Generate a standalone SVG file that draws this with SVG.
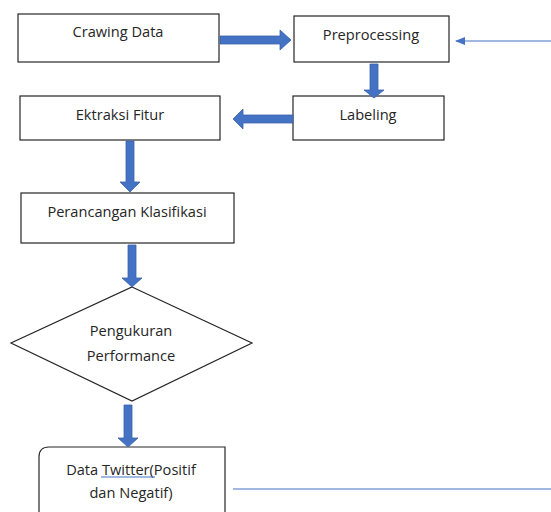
<svg xmlns="http://www.w3.org/2000/svg" width="551" height="512" viewBox="0 0 551 512">
<style>
.box{fill:#fff;stroke:#262626;stroke-width:1.2}
.t{font-family:"Open Sans","Liberation Sans",sans-serif;font-size:14.6px;fill:#262626;text-anchor:middle}
.ba{fill:#4472C4;stroke:#3A62AB;stroke-width:0.8}
.thin{stroke:#4472C4;stroke-width:1.2;fill:none}
</style>
<defs>
<marker id="ah" markerWidth="10" markerHeight="8" refX="9" refY="4" orient="auto" markerUnits="userSpaceOnUse">
<path d="M0,0 L10,4 L0,8 Z" fill="#4472C4"/>
</marker>
</defs>
<rect width="551" height="512" fill="#fff"/>
<g id="crawing"><rect class="box" x="18" y="14" width="201" height="48"/><text class="t" x="118" y="37">Crawing Data</text></g>
<g id="preprocessing"><rect class="box" x="294" y="16" width="155" height="46"/><text class="t" x="371" y="40">Preprocessing</text></g>
<g id="labeling"><rect class="box" x="293" y="96" width="151" height="44"/><text class="t" x="368" y="120">Labeling</text></g>
<g id="ektraksi"><rect class="box" x="20" y="96" width="200" height="44"/><text class="t" x="120" y="120">Ektraksi Fitur</text></g>
<g id="perancangan"><rect class="box" x="21" y="193" width="213" height="50"/><text class="t" x="127" y="217">Perancangan Klasifikasi</text></g>
<g id="pengukuran"><path class="box" d="M132,287 L252,343 L132,401 L11,343 Z"/><text class="t" x="131" y="336">Pengukuran</text><text class="t" x="131" y="361">Performance</text></g>
<g id="twitter"><path class="box" d="M39,520 L39,457 Q39,447 49,447 L225,447 L225,520"/><text class="t" x="131" y="475">Data Twitter(Positif</text><text class="t" x="131" y="498">dan Negatif)</text><path d="M101,477 L155,477" stroke="#4472C4" stroke-width="1" fill="none"/></g>
<g id="connectors">
<path class="ba" d="M220,36 L280,36 L280,30 L291,40 L280,50 L280,44 L220,44 Z"/>
<path class="ba" d="M370,64 L378,64 L378,90 L384,90 L374,98 L364,90 L370,90 Z"/>
<path class="ba" d="M293,115 L243,115 L243,109 L233,119 L243,129 L243,123 L293,123 Z"/>
<path class="ba" d="M126,141 L134,141 L134,182 L140,182 L130,192 L120,182 L126,182 Z"/>
<path class="ba" d="M128,245 L136,245 L136,278 L142,278 L132,287 L122,278 L128,278 Z"/>
<path class="ba" d="M124,405 L132,405 L132,438 L138,438 L128,447 L118,438 L124,438 Z"/>
<path class="thin" d="M551,41 L456,41" marker-end="url(#ah)"/>
<path class="thin" d="M233,489 L551,489"/>
</g>
</svg>
